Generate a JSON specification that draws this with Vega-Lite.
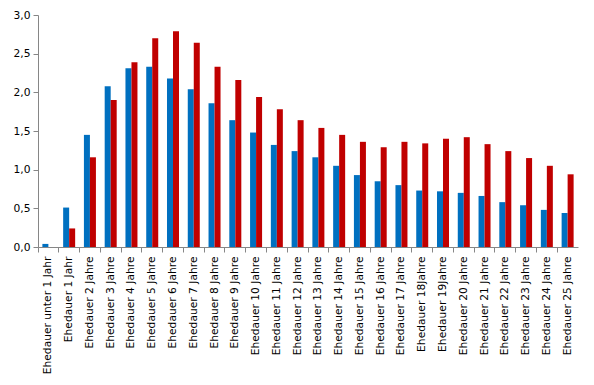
{
  "$schema": "https://vega.github.io/schema/vega-lite/v6.json",
  "autosize": "none",
  "width": 540,
  "height": 232,
  "padding": {"left": 38, "top": 15, "right": 16, "bottom": 138},
  "background": "white",
  "data": {"values": [
    {"k": "Ehedauer unter 1 Jahr", "s": "Reihe1", "v": 0.04},
    {"k": "Ehedauer unter 1 Jahr", "s": "Reihe2", "v": 0.0},
    {"k": "Ehedauer 1 Jahr", "s": "Reihe1", "v": 0.51},
    {"k": "Ehedauer 1 Jahr", "s": "Reihe2", "v": 0.24},
    {"k": "Ehedauer 2 Jahre", "s": "Reihe1", "v": 1.45},
    {"k": "Ehedauer 2 Jahre", "s": "Reihe2", "v": 1.16},
    {"k": "Ehedauer 3 Jahre", "s": "Reihe1", "v": 2.08},
    {"k": "Ehedauer 3 Jahre", "s": "Reihe2", "v": 1.90},
    {"k": "Ehedauer 4 Jahre", "s": "Reihe1", "v": 2.31},
    {"k": "Ehedauer 4 Jahre", "s": "Reihe2", "v": 2.39},
    {"k": "Ehedauer 5 Jahre", "s": "Reihe1", "v": 2.33},
    {"k": "Ehedauer 5 Jahre", "s": "Reihe2", "v": 2.70},
    {"k": "Ehedauer 6 Jahre", "s": "Reihe1", "v": 2.18},
    {"k": "Ehedauer 6 Jahre", "s": "Reihe2", "v": 2.79},
    {"k": "Ehedauer 7 Jahre", "s": "Reihe1", "v": 2.04},
    {"k": "Ehedauer 7 Jahre", "s": "Reihe2", "v": 2.64},
    {"k": "Ehedauer 8 Jahre", "s": "Reihe1", "v": 1.86},
    {"k": "Ehedauer 8 Jahre", "s": "Reihe2", "v": 2.33},
    {"k": "Ehedauer 9 Jahre", "s": "Reihe1", "v": 1.64},
    {"k": "Ehedauer 9 Jahre", "s": "Reihe2", "v": 2.16},
    {"k": "Ehedauer 10 Jahre", "s": "Reihe1", "v": 1.48},
    {"k": "Ehedauer 10 Jahre", "s": "Reihe2", "v": 1.94},
    {"k": "Ehedauer 11 Jahre", "s": "Reihe1", "v": 1.32},
    {"k": "Ehedauer 11 Jahre", "s": "Reihe2", "v": 1.78},
    {"k": "Ehedauer 12 Jahre", "s": "Reihe1", "v": 1.24},
    {"k": "Ehedauer 12 Jahre", "s": "Reihe2", "v": 1.64},
    {"k": "Ehedauer 13 Jahre", "s": "Reihe1", "v": 1.16},
    {"k": "Ehedauer 13 Jahre", "s": "Reihe2", "v": 1.54},
    {"k": "Ehedauer 14 Jahre", "s": "Reihe1", "v": 1.05},
    {"k": "Ehedauer 14 Jahre", "s": "Reihe2", "v": 1.45},
    {"k": "Ehedauer 15 Jahre", "s": "Reihe1", "v": 0.93},
    {"k": "Ehedauer 15 Jahre", "s": "Reihe2", "v": 1.36},
    {"k": "Ehedauer 16 Jahre", "s": "Reihe1", "v": 0.85},
    {"k": "Ehedauer 16 Jahre", "s": "Reihe2", "v": 1.29},
    {"k": "Ehedauer 17 Jahre", "s": "Reihe1", "v": 0.80},
    {"k": "Ehedauer 17 Jahre", "s": "Reihe2", "v": 1.36},
    {"k": "Ehedauer 18Jahre", "s": "Reihe1", "v": 0.73},
    {"k": "Ehedauer 18Jahre", "s": "Reihe2", "v": 1.34},
    {"k": "Ehedauer 19Jahre", "s": "Reihe1", "v": 0.72},
    {"k": "Ehedauer 19Jahre", "s": "Reihe2", "v": 1.40},
    {"k": "Ehedauer 20 Jahre", "s": "Reihe1", "v": 0.70},
    {"k": "Ehedauer 20 Jahre", "s": "Reihe2", "v": 1.42},
    {"k": "Ehedauer 21 Jahre", "s": "Reihe1", "v": 0.66},
    {"k": "Ehedauer 21 Jahre", "s": "Reihe2", "v": 1.33},
    {"k": "Ehedauer 22 Jahre", "s": "Reihe1", "v": 0.58},
    {"k": "Ehedauer 22 Jahre", "s": "Reihe2", "v": 1.24},
    {"k": "Ehedauer 23 Jahre", "s": "Reihe1", "v": 0.54},
    {"k": "Ehedauer 23 Jahre", "s": "Reihe2", "v": 1.15},
    {"k": "Ehedauer 24 Jahre", "s": "Reihe1", "v": 0.48},
    {"k": "Ehedauer 24 Jahre", "s": "Reihe2", "v": 1.05},
    {"k": "Ehedauer 25 Jahre", "s": "Reihe1", "v": 0.44},
    {"k": "Ehedauer 25 Jahre", "s": "Reihe2", "v": 0.94}
  ]},
  "mark": {"type": "bar"},
  "encoding": {
    "x": {
      "field": "k", "type": "nominal", "sort": null, "title": null,
      "scale": {"paddingInner": 0, "paddingOuter": 0},
      "axis": {"labelAngle": -90, "bandPosition": 0, "labelFont": "DejaVu Sans", "labelFontSize": 10.7, "labelColor": "#000000", "domainColor": "#868686", "tickColor": "#868686", "tickSize": 5, "labelPadding": 4, "labelBound": false, "labelOverlap": false}
    },
    "xOffset": {"field": "s", "type": "nominal", "sort": ["Reihe1", "Reihe2"], "scale": {"paddingOuter": 0.73, "paddingInner": 0}},
    "y": {
      "field": "v", "type": "quantitative", "title": null,
      "scale": {"domain": [0, 3], "nice": false},
      "axis": {"values": [0, 0.5, 1, 1.5, 2, 2.5, 3], "format": ".1f", "grid": false, "labelFont": "DejaVu Sans", "labelFontSize": 10.7, "labelColor": "#000000", "domainColor": "#868686", "tickColor": "#868686", "tickSize": 5, "labelPadding": 3}
    },
    "color": {"field": "s", "type": "nominal", "scale": {"domain": ["Reihe1", "Reihe2"], "range": ["#0070C0", "#C00000"]}, "legend": null}
  },
  "config": {
    "view": {"stroke": null},
    "locale": {"number": {"decimal": ",", "thousands": ".", "grouping": [3], "currency": ["", " €"]}}
  }
}
